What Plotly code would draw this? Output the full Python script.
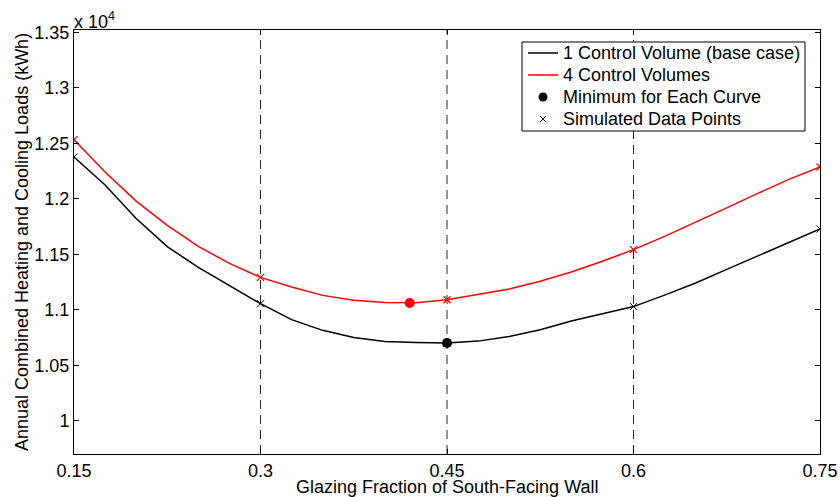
import plotly.graph_objects as go

# ---- data (kWh) ----
curve_x = [0.15, 0.175, 0.2, 0.225, 0.25, 0.275, 0.3, 0.325, 0.35, 0.375, 0.4, 0.425,
           0.45, 0.475, 0.5, 0.525, 0.55, 0.575, 0.6, 0.625, 0.65, 0.675, 0.7, 0.725, 0.75]
cv1_curve = [12376, 12124, 11822, 11568, 11381, 11217, 11054, 10911, 10814, 10750, 10714, 10705,
             10700, 10717, 10758, 10820, 10899, 10964, 11028, 11131, 11241, 11363, 11484, 11605, 11727]
cv4_curve = [12532, 12240, 11978, 11759, 11571, 11417, 11291, 11204, 11129, 11085, 11066, 11062,
             11090, 11135, 11186, 11256, 11340, 11437, 11541, 11661, 11787, 11917, 12048, 12174, 12286]

sim_x = [0.15, 0.3, 0.45, 0.6, 0.75]
cv1_sim = [12376, 11054, 10700, 11028, 11727]
cv4_sim = [12532, 11291, 11090, 11541, 12286]

cv1_min_x, cv1_min_y = [0.45], [10700]
cv4_min_x, cv4_min_y = [0.42], [11060]

guide_x = [0.3, 0.45, 0.6]

x_ticks = [0.15, 0.3, 0.45, 0.6, 0.75]
x_ticktext = ["0.15", "0.3", "0.45", "0.6", "0.75"]
y_ticks = [10000, 10500, 11000, 11500, 12000, 12500, 13000, 13500]
y_ticktext = ["1", "1.05", "1.1", "1.15", "1.2", "1.25", "1.3", "1.35"]

legend_labels = ["1 Control Volume (base case)", "4 Control Volumes",
                 "Minimum for Each Curve", "Simulated Data Points"]

FONT = "Liberation Sans, Arial, Helvetica, sans-serif"
BLACK, RED = "black", "#ff0000"

fig = go.Figure()

for gx in guide_x:
    fig.add_vline(x=gx, line=dict(color="#262626", width=1, dash="9px,6px"), layer="below")

fig.add_trace(go.Scatter(x=curve_x, y=cv1_curve, mode="lines", line=dict(color=BLACK, width=1.5),
                         name=legend_labels[0]))
fig.add_trace(go.Scatter(x=curve_x, y=cv4_curve, mode="lines", line=dict(color=RED, width=1.5),
                         name=legend_labels[1]))
fig.add_trace(go.Scatter(x=cv1_min_x, y=cv1_min_y, mode="markers",
                         marker=dict(color=BLACK, size=10, symbol="circle"), name=legend_labels[2]))
fig.add_trace(go.Scatter(x=cv4_min_x, y=cv4_min_y, mode="markers",
                         marker=dict(color=RED, size=10, symbol="circle")))
fig.add_trace(go.Scatter(x=sim_x, y=cv1_sim, mode="markers",
                         marker=dict(color=BLACK, size=7, symbol="x-thin",
                                     line=dict(color=BLACK, width=1)), name=legend_labels[3]))
fig.add_trace(go.Scatter(x=sim_x, y=cv4_sim, mode="markers",
                         marker=dict(color=RED, size=7, symbol="x-thin",
                                     line=dict(color=RED, width=1.2))))

# ---- hand-drawn legend on an overlay axis (0..1 = plot area) ----
lg_left, lg_right, lg_top, lg_bottom = 0.6005, 0.9799, 0.9717, 0.7618
lg_rows = [0.9458, 0.8939, 0.8420, 0.7901]
lg_sym_l, lg_sym_c, lg_sym_r, lg_text = 0.6086, 0.6287, 0.6488, 0.6528

fig.add_trace(go.Scatter(x=[lg_left, lg_right, lg_right, lg_left, lg_left],
                         y=[lg_top, lg_top, lg_bottom, lg_bottom, lg_top],
                         mode="lines", fill="toself", fillcolor="white",
                         line=dict(color=BLACK, width=1), xaxis="x2", yaxis="y2",
                         hoverinfo="skip"))
fig.add_trace(go.Scatter(x=[lg_sym_l, lg_sym_r], y=[lg_rows[0]] * 2, mode="lines",
                         line=dict(color=BLACK, width=1.5), xaxis="x2", yaxis="y2", hoverinfo="skip"))
fig.add_trace(go.Scatter(x=[lg_sym_l, lg_sym_r], y=[lg_rows[1]] * 2, mode="lines",
                         line=dict(color=RED, width=1.5), xaxis="x2", yaxis="y2", hoverinfo="skip"))
fig.add_trace(go.Scatter(x=[lg_sym_c], y=[lg_rows[2]], mode="markers",
                         marker=dict(color=BLACK, size=9, symbol="circle"),
                         xaxis="x2", yaxis="y2", hoverinfo="skip"))
fig.add_trace(go.Scatter(x=[lg_sym_c], y=[lg_rows[3]], mode="markers",
                         marker=dict(color=BLACK, size=6, symbol="x-thin", line=dict(color=BLACK, width=1)),
                         xaxis="x2", yaxis="y2", hoverinfo="skip"))
for lab, ry in zip(legend_labels, lg_rows):
    fig.add_annotation(text=lab, xref="paper", yref="paper", x=lg_text, y=ry,
                       xanchor="left", yanchor="middle", showarrow=False,
                       font=dict(family=FONT, size=18, color=BLACK))

axis_common = dict(showgrid=False, zeroline=False, showline=True, linecolor="black", linewidth=1,
                   mirror="ticks", ticks="inside", ticklen=5, tickcolor="black", tickwidth=1,
                   tickfont=dict(family=FONT, size=18, color="black"))

fig.update_xaxes(range=[0.15, 0.75], tickvals=x_ticks, ticktext=x_ticktext,
                 ticklabelstandoff=0, **axis_common)
fig.update_yaxes(range=[9700, 13520], tickvals=y_ticks, ticktext=y_ticktext,
                 title=dict(text="Annual Combined Heating and Cooling Loads (kWh)",
                            font=dict(family=FONT, size=18, color="black"), standoff=1),
                 **axis_common)

fig.add_annotation(text="Glazing Fraction of South-Facing Wall", xref="paper", yref="paper",
                   x=0.5, y=0, xanchor="center", yanchor="middle", yshift=-33, showarrow=False,
                   font=dict(family=FONT, size=18, color="black"))
fig.add_annotation(text="x 10<sup>4</sup>", xref="paper", yref="paper", x=0, y=1,
                   xanchor="left", yanchor="bottom", showarrow=False,
                   font=dict(family=FONT, size=18, color="black"), xshift=-2, yshift=-4)

fig.update_layout(
    width=840, height=497,
    margin=dict(l=74, r=20, t=30, b=43, autoexpand=False),
    plot_bgcolor="white", paper_bgcolor="white",
    font=dict(family=FONT, size=18, color="black"),
    showlegend=False,
    xaxis2=dict(overlaying="x", range=[0, 1], visible=False, fixedrange=True),
    yaxis2=dict(overlaying="y", range=[0, 1], visible=False, fixedrange=True),
)

fig.write_html("out.html")
